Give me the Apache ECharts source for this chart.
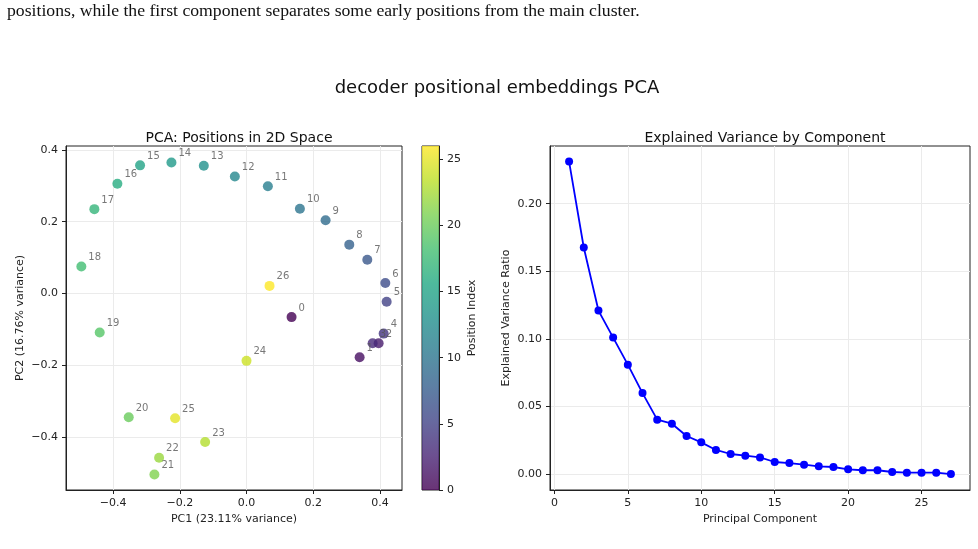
<!DOCTYPE html>
<html lang="en">
<head>
  <meta charset="UTF-8">
  <title>decoder positional embeddings PCA</title>
  <style>
    html, body { margin: 0; padding: 0; background: #fff; }
    #chart { width: 978px; height: 549px; }
  </style>
</head>
<body>
  <div id="chart"></div>
  <script src="https://cdn.jsdelivr.net/npm/echarts@6/dist/echarts.min.js"></script>
  <script>
    // PCA coordinates of each position
    var positions = [0, 1, 2, 3, 4, 5, 6, 7, 8, 9, 10, 11, 12, 13, 14, 15, 16, 17, 18, 19, 20, 21, 22, 23, 24, 25, 26];
    var pc1 = [0.135, 0.339, 0.396, 0.378, 0.411, 0.420, 0.416, 0.362, 0.308, 0.237, 0.160, 0.064, -0.035, -0.128,
      -0.225, -0.319, -0.387, -0.456, -0.495, -0.440, -0.353, -0.276, -0.262, -0.124, 0.000, -0.214, 0.069];
    var pc2 = [-0.066, -0.178, -0.139, -0.139, -0.112, -0.023, 0.029, 0.094, 0.136, 0.204, 0.236, 0.299, 0.326, 0.356,
      0.365, 0.357, 0.306, 0.235, 0.075, -0.109, -0.345, -0.505, -0.458, -0.414, -0.188, -0.348, 0.021];

    // explained variance ratio per component
    var components = [1, 2, 3, 4, 5, 6, 7, 8, 9, 10, 11, 12, 13, 14, 15, 16, 17, 18, 19, 20, 21, 22, 23, 24, 25, 26, 27];
    var varianceRatio = [0.2311, 0.1676, 0.121, 0.101, 0.081, 0.060, 0.0404, 0.0374, 0.0283, 0.0236, 0.0180, 0.0150,
      0.0138, 0.0125, 0.0091, 0.0083, 0.0071, 0.0059, 0.0054, 0.0037, 0.0030, 0.0030, 0.0017, 0.0012, 0.0012, 0.0012, 0.0002];

    var pcTicks = [-0.4, -0.2, 0.0, 0.2, 0.4];
    var compTicks = [0, 5, 10, 15, 20, 25];
    var ratioTicks = [0, 0.05, 0.10, 0.15, 0.20];
    var indexTicks = [0, 5, 10, 15, 20, 25];

    var viridis = ['#440154', '#482475', '#414487', '#355f8d', '#2a788e', '#21918c',
      '#22a884', '#44bf70', '#7ad151', '#bddf26', '#fde725'];

    var scatterData = [];
    for (var i = 0; i < positions.length; i++) {
      scatterData.push([pc1[i], pc2[i], positions[i]]);
    }
    var lineData = [];
    for (var j = 0; j < components.length; j++) {
      lineData.push([components[j], varianceRatio[j]]);
    }

    var font = 'DejaVu Sans';
    function minus(v, d) {
      return v.toFixed(d).replace('-', '\u2212');
    }
    var tickLabel = { color: '#222', fontFamily: font, fontSize: 11 };
    var split = { show: true, lineStyle: { color: '#ebebeb', width: 1 } };
    var line = { show: true, onZero: false, lineStyle: { color: '#222', width: 1 } };
    function ticks(vals) {
      return { show: true, length: 4, lineStyle: { color: '#222' }, customValues: vals };
    }

    var chart = echarts.init(document.getElementById('chart'));
    var option = {
      backgroundColor: '#fff',
      animation: false,
      textStyle: { fontFamily: font },
      title: [
        { text: 'decoder positional embeddings PCA', left: 492, top: 74, textAlign: 'center',
          textStyle: { fontFamily: font, fontSize: 18, fontWeight: 'normal', color: '#111' } },
        { text: 'PCA: Positions in 2D Space', left: 234, top: 126, textAlign: 'center',
          textStyle: { fontFamily: font, fontSize: 14, fontWeight: 'normal', color: '#111' } },
        { text: 'Explained Variance by Component', left: 760, top: 126, textAlign: 'center',
          textStyle: { fontFamily: font, fontSize: 14, fontWeight: 'normal', color: '#111' } }
      ],
      graphic: [
        { type: 'text', left: 7, top: 2,
          style: { text: 'positions, while the first component separates some early positions from the main cluster.',
            font: '17.7px "Liberation Serif"', fill: '#111' } }
      ],
      grid: [
        { left: 66, top: 146, width: 336, height: 344, show: true, borderColor: '#222', borderWidth: 1 },
        { left: 550, top: 146, width: 420, height: 344, show: true, borderColor: '#222', borderWidth: 1 },
        { left: 422, top: 146, width: 17, height: 344, show: true, borderColor: '#222', borderWidth: 1 }
      ],
      visualMap: {
        show: false, type: 'continuous', seriesIndex: 0, dimension: 2, min: 0, max: 26,
        inRange: { color: viridis }
      },
      xAxis: [
        { type: 'value', gridIndex: 0, min: -0.541, max: 0.466,
          name: 'PC1 (23.11% variance)', nameLocation: 'middle', nameGap: 24,
          nameTextStyle: { fontFamily: font, fontSize: 11, color: '#222' },
          axisLine: line, axisTick: ticks(pcTicks),
          axisLabel: Object.assign({ customValues: pcTicks, formatter: function (v) { return minus(v, 1); } }, tickLabel),
          splitLine: split },
        { type: 'value', gridIndex: 1, min: -0.3, max: 28.3,
          name: 'Principal Component', nameLocation: 'middle', nameGap: 24,
          nameTextStyle: { fontFamily: font, fontSize: 11, color: '#222' },
          axisLine: line, axisTick: ticks(compTicks),
          axisLabel: Object.assign({ customValues: compTicks }, tickLabel),
          splitLine: split },
        { type: 'category', gridIndex: 2, data: ['c'], show: false }
      ],
      yAxis: [
        { type: 'value', gridIndex: 0, min: -0.548, max: 0.411,
          name: 'PC2 (16.76% variance)', nameLocation: 'middle', nameGap: 40,
          nameTextStyle: { fontFamily: font, fontSize: 11, color: '#222' },
          axisLine: line, axisTick: ticks(pcTicks),
          axisLabel: Object.assign({ customValues: pcTicks, formatter: function (v) { return minus(v, 1); } }, tickLabel),
          splitLine: split },
        { type: 'value', gridIndex: 1, min: -0.0116, max: 0.2426,
          name: 'Explained Variance Ratio', nameLocation: 'middle', nameGap: 38,
          nameTextStyle: { fontFamily: font, fontSize: 11, color: '#222' },
          axisLine: line, axisTick: ticks(ratioTicks),
          axisLabel: Object.assign({ customValues: ratioTicks, formatter: function (v) { return v.toFixed(2); } }, tickLabel),
          splitLine: split },
        { type: 'value', gridIndex: 2, position: 'right', min: 0, max: 26,
          name: 'Position Index', nameLocation: 'middle', nameGap: 28, nameRotate: 90,
          nameTextStyle: { fontFamily: font, fontSize: 11, color: '#222' },
          axisLine: line, axisTick: ticks(indexTicks),
          axisLabel: Object.assign({ customValues: indexTicks }, tickLabel),
          splitLine: { show: false } }
      ],
      series: [
        {
          type: 'scatter', xAxisIndex: 0, yAxisIndex: 0, data: scatterData,
          symbolSize: 10, itemStyle: { opacity: 0.8 },
          label: {
            show: true, position: [12, -4], align: 'left', verticalAlign: 'middle',
            fontFamily: font, fontSize: 10, color: '#555',
            formatter: function (p) { return String(p.value[2]); }
          }
        },
        {
          type: 'line', xAxisIndex: 1, yAxisIndex: 1, data: lineData,
          symbol: 'circle', symbolSize: 8, showSymbol: true,
          lineStyle: { color: '#0000ff', width: 1.8 }, itemStyle: { color: '#0000ff' }
        },
        {
          type: 'bar', xAxisIndex: 2, yAxisIndex: 2, data: [26], barWidth: '100%', silent: true,
          itemStyle: {
            opacity: 0.8,
            color: new echarts.graphic.LinearGradient(0, 1, 0, 0, viridis.map(function (c, k) {
              return { offset: k / (viridis.length - 1), color: c };
            }))
          }
        }
      ]
    };
    chart.setOption(option);
  </script>
</body>
</html>
